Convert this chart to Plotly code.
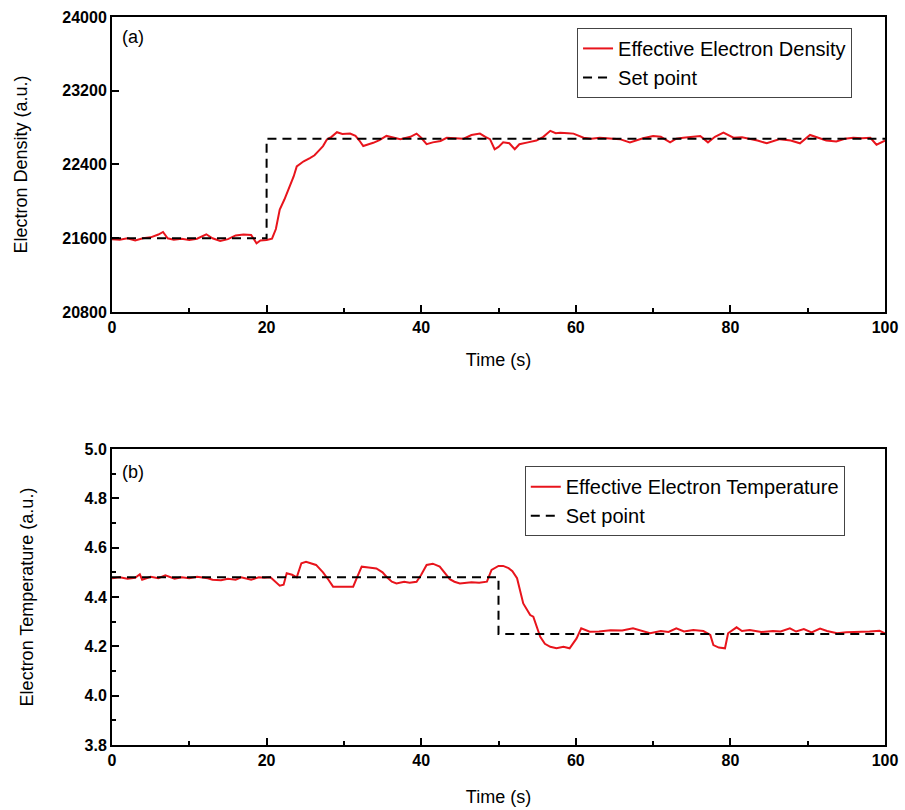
import plotly.graph_objects as go

# ---- Panel (a): electron density ----
time_a = [0, 1, 2, 3, 4, 5, 6, 6.6, 7.2, 8, 9, 10, 11, 12.2, 13, 14, 15, 16, 17, 18,
          18.7, 19.2, 20.0, 20.7, 21.2, 21.7, 22.3, 23.0, 23.5, 23.9, 24.8, 25.6, 26.2,
          26.7, 27.3, 27.8, 28.4, 29.1, 29.8, 30.8, 31.5, 32.0, 32.5, 33.2, 33.8, 34.6,
          35.5, 36.5, 37.3, 38.6, 39.4, 40.0, 40.7, 41.5, 42.5, 43.3, 44.2, 45.5, 46.5,
          47.6, 48.3, 48.9, 49.5, 50.0, 50.6, 51.4, 52.1, 52.7, 53.8, 54.9, 55.8, 56.7,
          57.4, 58.0, 59.0, 59.7, 61.0, 62.0, 63.1, 64.5, 65.7, 67.0, 68.0, 68.7, 70.0,
          71.0, 72.2, 73.0, 73.9, 75.0, 76.1, 77.1, 78.0, 79.1, 80.4, 81.5, 82.5, 83.5,
          84.7, 86.4, 87.8, 89.0, 90.3, 91.3, 92.4, 93.7, 94.8, 95.9, 97.0, 98.1, 98.9, 100]
density = [21590, 21585, 21600, 21575, 21600, 21610, 21640, 21668, 21600, 21585, 21595,
           21580, 21595, 21643, 21600, 21570, 21590, 21630, 21640, 21635, 21545, 21575,
           21580, 21595, 21700, 21910, 22020, 22165, 22270, 22380, 22435, 22470, 22500,
           22545, 22600, 22670, 22700, 22750, 22730, 22735, 22710, 22660, 22600, 22620,
           22635, 22665, 22710, 22690, 22675, 22700, 22735, 22690, 22620, 22640, 22655,
           22690, 22685, 22680, 22720, 22735, 22700, 22675, 22565, 22590, 22640, 22630,
           22565, 22620, 22640, 22660, 22700, 22765, 22740, 22745, 22740, 22735, 22690,
           22680, 22690, 22680, 22675, 22640, 22670, 22685, 22710, 22700, 22640, 22680,
           22690, 22700, 22710, 22640, 22700, 22745, 22690, 22695, 22680, 22660, 22630,
           22675, 22660, 22630, 22720, 22690, 22660, 22650, 22680, 22690, 22685, 22690,
           22615, 22660]
sp_time_a = [0, 20, 20, 100]
sp_density = [21600, 21600, 22680, 22680]

# ---- Panel (b): electron temperature ----
time_b = [0, 1, 2, 3, 3.6, 3.9, 5, 6, 6.9, 8.1, 9, 10, 11, 12.4, 13, 14.1, 15, 16, 16.7,
          18, 19, 19.7, 20.5, 21.3, 21.7, 22.2, 22.6, 23.3, 23.9, 24.5, 25.1, 26.4, 27.3,
          28.0, 28.6, 30.0, 31.2, 31.7, 32.3, 33.2, 34.2, 35.0, 35.5, 36.2, 36.8, 37.8,
          38.5, 39.4, 40.0, 40.7, 41.5, 42.4, 43.0, 43.7, 44.3, 45.0, 46.5, 47.5, 48.5,
          49.1, 50.0, 50.6, 51.3, 51.8, 52.4, 53.2, 54.1, 54.5, 55.4, 56.0, 56.7, 57.5,
          58.4, 59.2, 60.1, 60.7, 61.8, 63.0, 64.5, 66.0, 67.4, 68.5, 69.6, 71.0, 72.0,
          73.0, 74.0, 75.2, 76.5, 77.4, 77.8, 78.5, 79.3, 79.7, 80.8, 81.5, 82.5, 84.0,
          85.5, 86.5, 87.7, 88.5, 89.5, 90.5, 91.6, 92.5, 93.8, 95.0, 96.5, 98.0, 99.3, 100]
temperature = [4.476, 4.480, 4.474, 4.478, 4.492, 4.470, 4.482, 4.476, 4.488, 4.474, 4.480,
               4.476, 4.482, 4.476, 4.470, 4.468, 4.474, 4.470, 4.480, 4.470, 4.480, 4.478,
               4.480, 4.455, 4.446, 4.450, 4.496, 4.490, 4.480, 4.537, 4.543, 4.530, 4.500,
               4.470, 4.442, 4.442, 4.442, 4.480, 4.523, 4.520, 4.516, 4.500, 4.482, 4.462,
               4.455, 4.462, 4.458, 4.462, 4.490, 4.530, 4.535, 4.523, 4.500, 4.472, 4.462,
               4.455, 4.460, 4.458, 4.462, 4.510, 4.526, 4.526, 4.517, 4.505, 4.476, 4.374,
               4.327, 4.320, 4.239, 4.210, 4.198, 4.192, 4.198, 4.192, 4.232, 4.273, 4.259,
               4.260, 4.265, 4.264, 4.273, 4.262, 4.253, 4.262, 4.258, 4.273, 4.260, 4.266,
               4.262, 4.246, 4.205, 4.195, 4.192, 4.253, 4.277, 4.262, 4.266, 4.258, 4.262,
               4.260, 4.273, 4.260, 4.270, 4.256, 4.272, 4.262, 4.253, 4.257, 4.258, 4.260,
               4.263, 4.253]
sp_time_b = [0, 50, 50, 100]
sp_temperature = [4.48, 4.48, 4.25, 4.25]

RED = "#e8141c"
FONT = "Arial, Liberation Sans, sans-serif"

fig = go.Figure()
fig.add_trace(go.Scatter(x=time_a, y=density, mode="lines", name="Effective Electron Density",
                         line=dict(color=RED, width=2), xaxis="x", yaxis="y", legend="legend"))
fig.add_trace(go.Scatter(x=sp_time_a, y=sp_density, mode="lines", name="Set point",
                         line=dict(color="black", width=2, dash="9px,6px"),
                         xaxis="x", yaxis="y", legend="legend"))
fig.add_trace(go.Scatter(x=time_b, y=temperature, mode="lines", name="Effective Electron Temperature",
                         line=dict(color=RED, width=2), xaxis="x2", yaxis="y2", legend="legend2"))
fig.add_trace(go.Scatter(x=sp_time_b, y=sp_temperature, mode="lines", name="Set point",
                         line=dict(color="black", width=2, dash="9px,6px"),
                         xaxis="x2", yaxis="y2", legend="legend2"))

axis_common = dict(showline=True, linecolor="black", linewidth=2, mirror=True,
                   ticks="inside", ticklen=7, tickwidth=2, tickcolor="black",
                   showgrid=False, zeroline=False, automargin=False,
                   tickfont=dict(family=FONT, size=16, color="black", weight="bold"))

xa = dict(axis_common, range=[0, 100], dtick=20, tick0=0,
          minor=dict(ticks="inside", ticklen=4, tickwidth=2, tickcolor="black", dtick=10, tick0=0),
          title=dict(text="Time (s)", font=dict(family=FONT, size=18, color="black"), standoff=18))

fig.update_layout(
    width=905, height=810,
    margin=dict(l=112, r=20, t=17, b=65),
    plot_bgcolor="white", paper_bgcolor="white",
    xaxis=dict(xa, domain=[0, 1], anchor="y"),
    yaxis=dict(axis_common, domain=[0.5948, 1], anchor="x", range=[20800, 24000], dtick=800, tick0=20800,
               tickformat="d",
               title=dict(text="Electron Density (a.u.)", font=dict(family=FONT, size=18, color="black"),
                          standoff=30)),
    xaxis2=dict(xa, domain=[0, 1], anchor="y2",
                title=dict(text="Time (s)", font=dict(family=FONT, size=18, color="black"), standoff=22)),
    yaxis2=dict(axis_common, domain=[0, 0.4066], anchor="x2", range=[3.8, 5.0], dtick=0.2, tick0=3.8,
                tickformat=".1f",
                minor=dict(ticks="inside", ticklen=4, tickwidth=2, tickcolor="black", dtick=0.1, tick0=3.8),
                title=dict(text="Electron Temperature (a.u.)", font=dict(family=FONT, size=18, color="black"),
                           standoff=46)),
    legend=dict(x=0.6016, y=0.985, xanchor="left", yanchor="top", bgcolor="white",
                bordercolor="#444", borderwidth=1, font=dict(family=FONT, size=20, color="black"),
                tracegroupgap=0),
    legend2=dict(x=0.534, y=0.383, xanchor="left", yanchor="top", bgcolor="white",
                 bordercolor="#444", borderwidth=1, font=dict(family=FONT, size=20, color="black"),
                 tracegroupgap=0),
    annotations=[
        dict(text="(a)", x=0.01, y=0.989, xref="paper", yref="paper", showarrow=False,
             xanchor="left", yanchor="top", font=dict(family=FONT, size=18, color="black")),
        dict(text="(b)", x=0.01, y=0.392, xref="paper", yref="paper", showarrow=False,
             xanchor="left", yanchor="top", font=dict(family=FONT, size=18, color="black")),
    ],
)

fig.write_html("out.html")
